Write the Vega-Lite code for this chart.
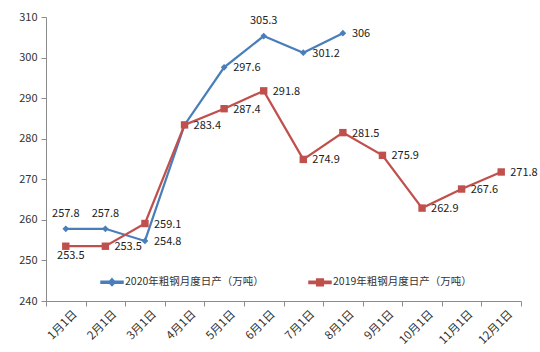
{
  "$schema": "https://vega.github.io/schema/vega-lite/v6.json",
  "autosize": {"type": "none"},
  "width": 475,
  "height": 284,
  "padding": {"left": 46, "top": 17, "right": 19, "bottom": 51},
  "background": "white",
  "config": {
    "view": {"stroke": null},
    "font": "Noto Sans CJK SC",
    "axis": {"labelFont": "Noto Sans CJK SC", "labelFontSize": 11, "labelColor": "#333333", "domainColor": "#8c8c8c", "tickColor": "#8c8c8c", "grid": false, "title": null}
  },
  "data": {
    "values": [
      {"month": "1月1日", "series": "2020年粗钢月度日产（万吨）", "value": 257.8},
      {"month": "2月1日", "series": "2020年粗钢月度日产（万吨）", "value": 257.8},
      {"month": "3月1日", "series": "2020年粗钢月度日产（万吨）", "value": 254.8},
      {"month": "4月1日", "series": "2020年粗钢月度日产（万吨）", "value": 283.4},
      {"month": "5月1日", "series": "2020年粗钢月度日产（万吨）", "value": 297.6},
      {"month": "6月1日", "series": "2020年粗钢月度日产（万吨）", "value": 305.3},
      {"month": "7月1日", "series": "2020年粗钢月度日产（万吨）", "value": 301.2},
      {"month": "8月1日", "series": "2020年粗钢月度日产（万吨）", "value": 306},
      {"month": "1月1日", "series": "2019年粗钢月度日产（万吨）", "value": 253.5},
      {"month": "2月1日", "series": "2019年粗钢月度日产（万吨）", "value": 253.5},
      {"month": "3月1日", "series": "2019年粗钢月度日产（万吨）", "value": 259.1},
      {"month": "4月1日", "series": "2019年粗钢月度日产（万吨）", "value": 283.4},
      {"month": "5月1日", "series": "2019年粗钢月度日产（万吨）", "value": 287.4},
      {"month": "6月1日", "series": "2019年粗钢月度日产（万吨）", "value": 291.8},
      {"month": "7月1日", "series": "2019年粗钢月度日产（万吨）", "value": 274.9},
      {"month": "8月1日", "series": "2019年粗钢月度日产（万吨）", "value": 281.5},
      {"month": "9月1日", "series": "2019年粗钢月度日产（万吨）", "value": 275.9},
      {"month": "10月1日", "series": "2019年粗钢月度日产（万吨）", "value": 262.9},
      {"month": "11月1日", "series": "2019年粗钢月度日产（万吨）", "value": 267.6},
      {"month": "12月1日", "series": "2019年粗钢月度日产（万吨）", "value": 271.8}
    ]
  },
  "encoding": {
    "x": {
      "field": "month", "type": "ordinal",
      "sort": ["1月1日","2月1日","3月1日","4月1日","5月1日","6月1日","7月1日","8月1日","9月1日","10月1日","11月1日","12月1日"],
      "scale": {"paddingInner": 0, "paddingOuter": 0},
      "axis": {"labelAngle": -45, "labelAlign": "right", "labelBaseline": "top", "tickBand": "extent", "tickSize": 5, "labelPadding": 2, "labelOffset": 5, "labelFontSize": 11.5}
    },
    "y": {
      "field": "value", "type": "quantitative",
      "scale": {"domain": [240, 310], "zero": false, "nice": false},
      "axis": {"values": [240, 250, 260, 270, 280, 290, 300, 310], "tickSize": 5, "labelPadding": 4}
    },
    "color": {
      "field": "series", "type": "nominal",
      "sort": ["2020年粗钢月度日产（万吨）", "2019年粗钢月度日产（万吨）"],
      "scale": {"domain": ["2020年粗钢月度日产（万吨）", "2019年粗钢月度日产（万吨）"], "range": ["#4A7EBB", "#C0504D"]},
      "legend": {
        "title": null, "orient": "none", "direction": "horizontal", "columns": 2,
        "legendX": 54, "legendY": 253, "columnPadding": 42, "padding": 0,
        "symbolSize": 484, "labelFontSize": 10.5, "labelColor": "#333333", "labelFont": "Noto Sans CJK SC", "labelOffset": 1,
        "encode": {
          "symbols": {
            "update": {
              "shape": [
                {"test": "datum.value === '2020年粗钢月度日产（万吨）'", "value": "M-1,-0.1L1,-0.1L1,0.1L-1,0.1Z M0,-0.32L0.3,0L0,0.32L-0.3,0Z"},
                {"value": "M-1,-0.1L1,-0.1L1,0.1L-1,0.1Z M-0.3,-0.3L0.3,-0.3L0.3,0.3L-0.3,0.3Z"}
              ],
              "fill": [
                {"test": "datum.value === '2020年粗钢月度日产（万吨）'", "value": "#4A7EBB"},
                {"value": "#C0504D"}
              ],
              "stroke": {"value": "transparent"},
              "opacity": {"value": 1}
            }
          }
        }
      }
    }
  },
  "layer": [
    {"mark": {"type": "line", "strokeWidth": 2.25}},
    {
      "transform": [{"filter": "datum.series === '2020年粗钢月度日产（万吨）'"}],
      "mark": {"type": "point", "filled": true, "opacity": 1, "shape": "diamond", "size": 45}
    },
    {
      "transform": [{"filter": "datum.series === '2019年粗钢月度日产（万吨）'"}],
      "mark": {"type": "point", "filled": true, "opacity": 1, "shape": "square", "size": 55}
    },
    {
      "transform": [{"filter": "!(datum.series === '2020年粗钢月度日产（万吨）' && indexof(['1月1日','2月1日','4月1日','6月1日'], datum.month) >= 0) && !(datum.series === '2019年粗钢月度日产（万吨）' && datum.month === '1月1日')"}],
      "mark": {"type": "text", "align": "left", "baseline": "middle", "dx": 9, "dy": 1, "fontSize": 11, "font": "Noto Sans CJK SC"},
      "encoding": {"text": {"field": "value", "type": "quantitative"}, "color": {"value": "#222222"}}
    },
    {
      "transform": [{"filter": "datum.series === '2020年粗钢月度日产（万吨）' && indexof(['1月1日','2月1日','6月1日'], datum.month) >= 0"}],
      "mark": {"type": "text", "align": "center", "baseline": "middle", "dy": -15, "fontSize": 11, "font": "Noto Sans CJK SC"},
      "encoding": {"text": {"field": "value", "type": "quantitative"}, "color": {"value": "#222222"}}
    },
    {
      "transform": [{"filter": "datum.series === '2019年粗钢月度日产（万吨）' && datum.month === '1月1日'"}],
      "mark": {"type": "text", "align": "center", "baseline": "middle", "dx": 5, "dy": 10, "fontSize": 11, "font": "Noto Sans CJK SC"},
      "encoding": {"text": {"field": "value", "type": "quantitative"}, "color": {"value": "#222222"}}
    }
  ]
}
